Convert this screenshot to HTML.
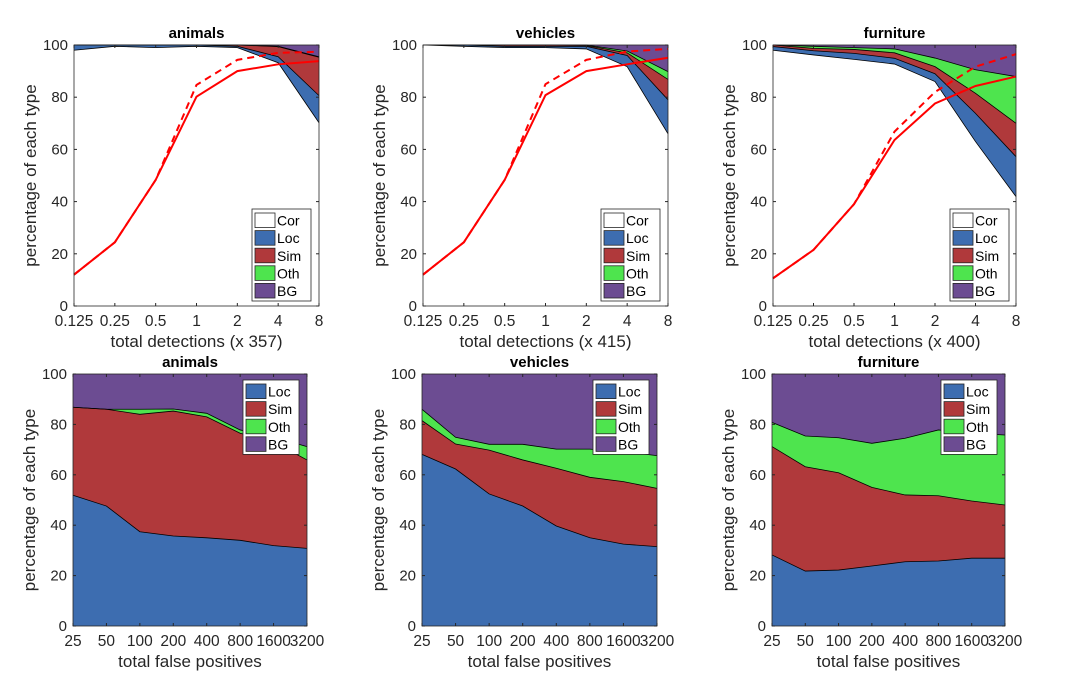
<!DOCTYPE html>
<html><head><meta charset="utf-8"><style>
body{margin:0;background:#fff}
svg{display:block;font-family:"Liberation Sans",Arial,sans-serif}
</style></head><body>
<svg id="fig" width="1080" height="682" viewBox="0 0 1080 682" xmlns="http://www.w3.org/2000/svg"></svg>
<script>
// ---- data ----
const topTicks = ["0.125","0.25","0.5","1","2","4","8"];
const botTicks = ["25","50","100","200","400","800","1600","3200"];
const yTicks = [0,20,40,60,80,100];
// top row cumulative boundaries (Cor, +Loc, +Sim, +Oth)
const animCor = [98,99.5,99,99.5,99,93.2,70.2];
const animLoc = [100,100,100,100,99.5,95.5,80.6];
const animSim = [100,100,100,100,100,99.4,95.3];
const animOth = [100,100,100,100,100,99.5,95.5];
const animRecall = [12,24.4,48.3,80.2,90,92.6,93.8];
const animRecallW = [12,24.4,48.3,84.7,94.3,97,97.4];
const vehCor = [100,99.5,99,99,98.5,91.7,66];
const vehLoc = [100,100,99.5,99.5,99.5,96,79];
const vehSim = [100,100,100,100,99.8,97,86.8];
const vehOth = [100,100,100,100,100,97.7,89.8];
const vehRecall = [12,24.4,48.3,80.8,90,92.6,95.1];
const vehRecallW = [12,24.4,48.3,85,94.3,97.5,98.5];
const furCor = [98,96.2,94.5,92.7,86,63,41.9];
const furLoc = [99.4,97.8,96.8,94.9,89,73.8,57.2];
const furSim = [100,98.7,98.3,97,91.7,81.5,70];
const furOth = [100,99.5,99,98.5,95,90.5,87.9];
const furRecall = [10.6,21.5,39,63.6,77.6,84.3,87.9];
const furRecallW = [10.6,21.5,39,66.8,82,91.7,96.5];
// bottom row cumulative (Loc, +Sim, +Oth)
const animFpLoc = [51.9,47.6,37.4,35.7,35,34,31.9,30.8];
const animFpSim = [86.8,86,84,85.3,83,76.5,73,65.9];
const animFpOth = [86.8,86,86,86.1,84.4,77.8,75,71.2];
const vehFpLoc = [68.1,62.3,52.4,47.6,39.7,35,32.5,31.5];
const vehFpSim = [81.5,72.2,69.8,65.9,62.6,59,57.3,54.6];
const vehFpOth = [86,74.9,72.1,72.1,70.2,70.2,69.2,67.6];
const furFpLoc = [28.2,21.8,22.2,23.8,25.5,25.8,26.9,26.9];
const furFpSim = [71.2,63.2,60.8,55,52,51.7,49.6,48];
const furFpOth = [80.8,75.4,74.7,72.5,74.5,77.8,76.5,75.8];

const C = {cor:"#ffffff",loc:"#3d6db0",sim:"#b0393b",oth:"#4ee44e",bg:"#6c4c92"};
const svg = document.getElementById('fig');
const NS = "http://www.w3.org/2000/svg";
function mk(tag, attrs, parent){const e=document.createElementNS(NS,tag);for(const k in attrs)e.setAttribute(k,attrs[k]);(parent||svg).appendChild(e);return e;}

function panel(o){
  const g = mk('g',{});
  
  
  const n=o.ticks.length;
  const xs=i=>o.x0+(o.x1-o.x0)*i/(n-1);
  const ys=v=>o.y1-(o.y1-o.y0)*v/100;
  const bgR = mk('rect',{x:o.x0,y:o.y0,width:o.x1-o.x0,height:o.y1-o.y0,fill:C.bg},g);
  
  
  for(let L=o.layers.length-1;L>=0;L--){
    const arr=o.layers[L].vals;
    let d=`M${xs(0)},${ys(0)}`;
    arr.forEach((v,i)=>d+=`L${xs(i)},${ys(v)}`);
    d+=`L${xs(n-1)},${ys(0)}Z`;
    const p=mk('path',{d:d,fill:o.layers[L].color,stroke:"none"},g);
    
    
  }
  for(let L=0;L<o.layers.length;L++){
    const arr=o.layers[L].vals;
    const pts=arr.map((v,i)=>xs(i)+','+ys(v)).join(' ');
    const l=mk('polyline',{points:pts,fill:"none",stroke:"#000","stroke-width":0.8},g);
    
    
  }
  if(o.recall){
    const p1=mk('polyline',{points:o.recall.map((v,i)=>xs(i)+','+ys(v)).join(' '),fill:"none",stroke:"#ff0000","stroke-width":2},g);
    
    
    const p2=mk('polyline',{points:o.recallW.map((v,i)=>xs(i)+','+ys(v)).join(' '),fill:"none",stroke:"#ff0000","stroke-width":2,"stroke-dasharray":"7,5"},g);
    
    
  }
  const fr=mk('rect',{x:o.x0,y:o.y0,width:o.x1-o.x0,height:o.y1-o.y0,fill:"none",stroke:"#262626","stroke-width":0.8},g);
  
  
  yTicks.forEach(t=>{
    const y=ys(t);
    mk('line',{x1:o.x0,x2:o.x0+3,y1:y,y2:y,stroke:"#262626"},g);
    mk('line',{x1:o.x1,x2:o.x1-3,y1:y,y2:y,stroke:"#262626"},g);
    const tx=mk('text',{x:o.x0-6,y:y+5,"text-anchor":"end","font-size":15,fill:"#262626"},g);
    tx.textContent=t;
    
    
  });
  o.ticks.forEach((t,i)=>{
    const x=xs(i);
    mk('line',{x1:x,x2:x,y1:o.y1,y2:o.y1-3,stroke:"#262626"},g);
    mk('line',{x1:x,x2:x,y1:o.y0,y2:o.y0+3,stroke:"#262626"},g);
    const tx=mk('text',{x:x,y:o.y1+20,"text-anchor":"middle","font-size":15.5,fill:"#262626"},g);
    tx.textContent=t;
    
    
  });
  const ti=mk('text',{x:(o.x0+o.x1)/2,y:o.y0-7,"text-anchor":"middle","font-size":15,"font-weight":"bold",fill:"#000"},g);
  ti.textContent=o.title;
  
  
  const xl=mk('text',{x:(o.x0+o.x1)/2,y:o.y1+41,"text-anchor":"middle","font-size":17,fill:"#262626"},g);
  xl.textContent=o.xlabel;
  
  
  const cy=(o.y0+o.y1)/2, cx=o.x0-38;
  const yl=mk('text',{x:cx,y:cy,"text-anchor":"middle","font-size":17,fill:"#262626",transform:`rotate(-90 ${cx} ${cy})`},g);
  yl.textContent="percentage of each type";
  
  
  const lg=mk('g',{},g);
  
  
  const ents=o.legend;
  const lh=17.6;
  mk('rect',{x:o.lx,y:o.ly,width:o.lw,height:ents.length*lh+4,fill:"#fff",stroke:"#262626","stroke-width":0.8},lg);
  ents.forEach((e,i)=>{
    const yy=o.ly+3+i*lh;
    const sw=mk('rect',{x:o.lx+3,y:yy+1,width:20,height:lh-3,fill:C[e.key],stroke:"#262626","stroke-width":0.8},lg);
    
    
    const t=mk('text',{x:o.lx+25,y:yy+lh-4,"font-size":14,fill:"#000"},lg);
    t.textContent=e.label;
    
    
  });
}
const topLeg=[{key:'cor',label:'Cor'},{key:'loc',label:'Loc'},{key:'sim',label:'Sim'},{key:'oth',label:'Oth'},{key:'bg',label:'BG'}];
const botLeg=[{key:'loc',label:'Loc'},{key:'sim',label:'Sim'},{key:'oth',label:'Oth'},{key:'bg',label:'BG'}];
function topPanel(name,title,xl,x0,x1,lx,cor,loc,sim,oth,r,rw){
  panel({name,title,xlabel:xl,x0,x1,y0:45,y1:306,ticks:topTicks,
    layers:[{key:'cor',color:C.cor,vals:cor},{key:'loc',color:C.loc,vals:loc},{key:'sim',color:C.sim,vals:sim},{key:'oth',color:C.oth,vals:oth}],
    recall:r,recallW:rw,legend:topLeg,lx,ly:209,lw:59});
}
function botPanel(name,title,x0,x1,lx,loc,sim,oth){
  panel({name,title,xlabel:"total false positives",x0,x1,y0:374,y1:626,ticks:botTicks,
    layers:[{key:'loc',color:C.loc,vals:loc},{key:'sim',color:C.sim,vals:sim},{key:'oth',color:C.oth,vals:oth}],
    legend:botLeg,lx,ly:380,lw:56});
}
topPanel('panel-animals-detections','animals','total detections (x 357)',74,319,252,animCor,animLoc,animSim,animOth,animRecall,animRecallW);
topPanel('panel-vehicles-detections','vehicles','total detections (x 415)',423,668,601,vehCor,vehLoc,vehSim,vehOth,vehRecall,vehRecallW);
topPanel('panel-furniture-detections','furniture','total detections (x 400)',773,1016,950,furCor,furLoc,furSim,furOth,furRecall,furRecallW);
botPanel('panel-animals-fp','animals',73,307,243,animFpLoc,animFpSim,animFpOth);
botPanel('panel-vehicles-fp','vehicles',422,657,593,vehFpLoc,vehFpSim,vehFpOth);
botPanel('panel-furniture-fp','furniture',772,1005,941,furFpLoc,furFpSim,furFpOth);
</script>
</body></html>
